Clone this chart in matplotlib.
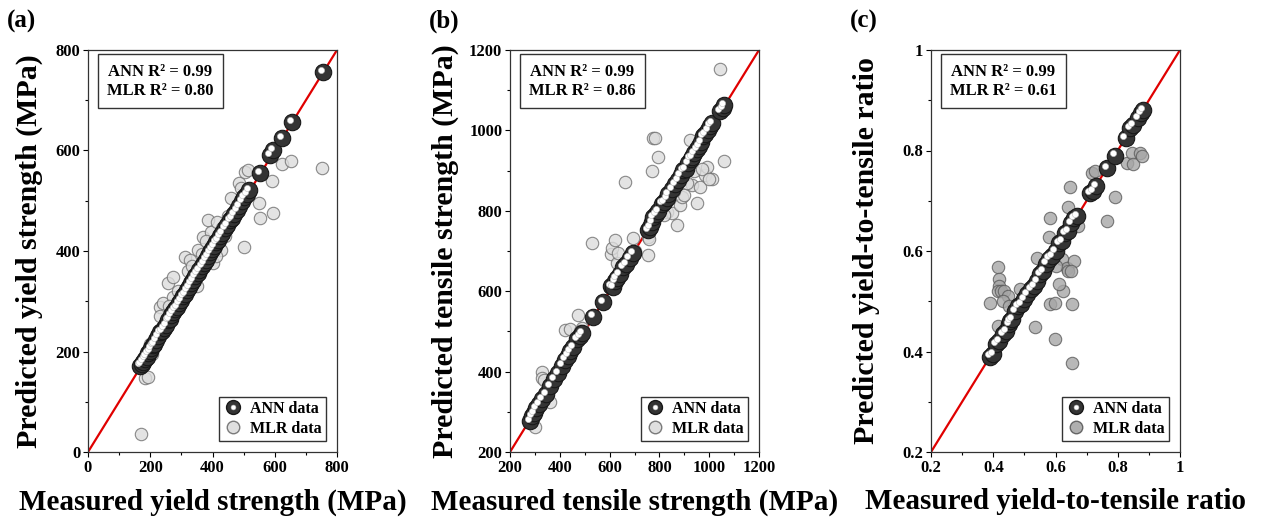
import numpy as np
import matplotlib
matplotlib.use('Agg')
import matplotlib.pyplot as plt
from matplotlib.transforms import offset_copy
from matplotlib.lines import Line2D
from matplotlib.legend_handler import HandlerTuple
from matplotlib.ticker import MultipleLocator, FuncFormatter

plt.rcParams['font.family'] = ['Liberation Serif', 'DejaVu Serif']
plt.rcParams['font.weight'] = 'bold'

# (a) предел текучести
ann_a_x = [168, 172, 178, 183, 188, 193, 198, 203, 208, 213, 220, 226, 232, 238, 244, 250, 256, 262, 268, 274,
           280, 286, 292, 298, 305, 312, 318, 325, 332, 338, 345, 352, 358, 365, 372, 378, 385, 392, 398, 405,
           412, 418, 425, 432, 440, 448, 455, 462, 470, 478, 486, 494, 502, 510, 518, 552, 585, 595, 622, 655, 755]
ann_a_y = [172, 175, 180, 186, 190, 197, 201, 206, 212, 215, 223, 230, 238, 240, 247, 253, 262, 265, 272, 279,
           284, 288, 296, 302, 310, 315, 322, 328, 336, 343, 350, 356, 362, 370, 376, 383, 390, 398, 404, 410,
           418, 422, 430, 436, 445, 452, 461, 466, 474, 482, 490, 499, 507, 514, 522, 555, 591, 601, 625, 657, 756]
mlr_a_x = [170, 184, 194, 205, 215, 232, 242, 258, 274, 287, 274, 300, 313, 329, 345, 352, 368, 387, 394, 403,
           416, 426, 430, 440, 458, 470, 484, 490, 500, 506, 513, 548, 552, 590, 594, 622, 652, 751, 260, 320,
           365, 380, 450, 350, 290, 230, 200, 410, 335]
mlr_a_y = [35, 147, 149, 195, 210, 289, 296, 336, 348, 296, 308, 310, 388, 382, 348, 402, 428, 462, 438, 376,
           458, 402, 445, 430, 505, 480, 535, 525, 408, 557, 561, 495, 466, 539, 476, 573, 579, 565, 290, 360,
           395, 420, 470, 330, 320, 270, 215, 390, 370]

# (b) предел прочности
ann_b_x = [280, 288, 295, 305, 318, 329, 345, 361, 378, 393, 410, 421, 433, 441, 455, 470, 480, 489, 533, 573,
           605, 614, 622, 628, 640, 654, 665, 680, 694, 755, 762, 770, 775, 785, 795, 810, 820, 830, 836, 850,
           862, 875, 885, 895, 905, 915, 925, 931, 940, 951, 960, 968, 976, 985, 995, 1003, 1012, 1045, 1055, 1061]
ann_b_y = [277, 290, 297, 310, 320, 331, 345, 363, 382, 397, 415, 430, 440, 451, 462, 480, 488, 496, 537, 574,
           612, 611, 625, 632, 643, 661, 668, 683, 694, 752, 760, 772, 785, 792, 800, 818, 822, 832, 842, 853,
           866, 876, 888, 901, 905, 918, 930, 933, 943, 954, 962, 970, 987, 990, 1000, 1012, 1018, 1049, 1055, 1062]
mlr_b_x = [301, 329, 329, 335, 361, 421, 473, 489, 440, 529, 606, 610, 622, 630, 634, 662, 694, 700, 755, 755,
           770, 775, 782, 794, 800, 830, 850, 871, 883, 891, 900, 923, 931, 951, 963, 983, 991, 1011, 1043, 1059,
           940, 970, 860, 820, 910, 1000, 760, 480]
mlr_b_y = [262, 398, 385, 380, 324, 504, 541, 509, 505, 719, 692, 707, 727, 670, 694, 871, 732, 700, 690, 735,
           898, 980, 980, 933, 805, 797, 795, 765, 814, 834, 840, 975, 863, 819, 858, 888, 909, 878, 1153, 923,
           900, 905, 850, 790, 870, 880, 730, 500]

# (c) отношение текучести к прочности
ann_c_x = [0.39, 0.40, 0.41, 0.42, 0.43, 0.44, 0.45, 0.455, 0.46, 0.47, 0.48, 0.49, 0.50, 0.51, 0.52, 0.53, 0.54,
           0.55, 0.56, 0.57, 0.58, 0.59, 0.60, 0.61, 0.62, 0.63, 0.64, 0.65, 0.66, 0.67, 0.71, 0.72, 0.73, 0.765,
           0.79, 0.825, 0.84, 0.85, 0.865, 0.875, 0.88]
ann_c_y = [0.39, 0.395, 0.415, 0.42, 0.435, 0.44, 0.455, 0.46, 0.465, 0.48, 0.49, 0.495, 0.505, 0.515, 0.525, 0.53,
           0.54, 0.555, 0.56, 0.575, 0.585, 0.59, 0.60, 0.615, 0.62, 0.635, 0.64, 0.655, 0.665, 0.67, 0.715, 0.72,
           0.73, 0.765, 0.79, 0.825, 0.845, 0.85, 0.865, 0.875, 0.88]
mlr_c_x = [0.39, 0.415, 0.418, 0.42, 0.415, 0.425, 0.435, 0.446, 0.415, 0.43, 0.45, 0.486, 0.534, 0.54, 0.575,
           0.578, 0.582, 0.582, 0.597, 0.598, 0.62, 0.625, 0.636, 0.64, 0.64, 0.647, 0.653, 0.653, 0.66, 0.672,
           0.717, 0.728, 0.765, 0.79, 0.83, 0.846, 0.85, 0.87, 0.877, 0.60, 0.61, 0.65]
mlr_c_y = [0.497, 0.569, 0.545, 0.53, 0.52, 0.52, 0.52, 0.51, 0.45, 0.50, 0.49, 0.524, 0.448, 0.587, 0.58,
           0.627, 0.666, 0.494, 0.497, 0.424, 0.585, 0.52, 0.566, 0.687, 0.56, 0.728, 0.378, 0.494, 0.58, 0.649,
           0.755, 0.76, 0.659, 0.708, 0.775, 0.795, 0.773, 0.795, 0.79, 0.57, 0.535, 0.56]

panels = [
    dict(tag='(a)', ann=(ann_a_x, ann_a_y), mlr=(mlr_a_x, mlr_a_y), lim=(0, 800), major=200, minor=100,
         r2=('0.99', '0.80'), xlabel='Measured yield strength (MPa)', ylabel='Predicted yield strength (MPa)',
         mlr_face='#dcdcdc', mlr_edge='#6e6e6e', left=88, ylx=-0.235),
    dict(tag='(b)', ann=(ann_b_x, ann_b_y), mlr=(mlr_b_x, mlr_b_y), lim=(200, 1200), major=200, minor=100,
         r2=('0.99', '0.86'), xlabel='Measured tensile strength (MPa)', ylabel='Predicted tensile strength (MPa)',
         mlr_face='#dcdcdc', mlr_edge='#6e6e6e', left=510, ylx=-0.26),
    dict(tag='(c)', ann=(ann_c_x, ann_c_y), mlr=(mlr_c_x, mlr_c_y), lim=(0.2, 1.0), major=0.2, minor=0.1,
         r2=('0.99', '0.61'), xlabel='Measured yield-to-tensile ratio', ylabel='Predicted yield-to-tensile ratio',
         mlr_face='#a6a6a6', mlr_edge='#5a5a5a', left=931, ylx=-0.258),
]

W, H = 1261, 524
fig = plt.figure(figsize=(W / 100, H / 100), dpi=100)

for p in panels:
    ax = fig.add_axes([p['left'] / W, (H - 452) / H, 249 / W, 402 / H])
    lo, hi = p['lim']
    ax.plot([lo, hi], [lo, hi], color='#e00000', lw=1.6, zorder=1)

    mx, my = p['mlr']
    ax.scatter(mx, my, s=80, facecolor=p['mlr_face'], edgecolor=p['mlr_edge'], lw=0.8, alpha=0.8, zorder=2)

    axx, axy = p['ann']
    ax.scatter(axx, axy, s=140, facecolor='#343434', edgecolor='#181818', lw=0.8, zorder=3)
    hl = offset_copy(ax.transData, fig=fig, x=-1.5, y=1.5, units='points')
    ax.scatter(axx, axy, s=20, facecolor='white', edgecolor='#bbbbbb', lw=0.4, transform=hl, zorder=4)

    ax.set_xlim(lo, hi)
    ax.set_ylim(lo, hi)
    for a in (ax.xaxis, ax.yaxis):
        a.set_major_locator(MultipleLocator(p['major']))
        a.set_minor_locator(MultipleLocator(p['minor']))
        a.set_major_formatter(FuncFormatter(lambda v, pos: f'{v:g}'))
    ax.tick_params(which='both', direction='out', top=False, right=False, labelsize=12, pad=2, width=0.8)
    ax.tick_params(which='major', length=3.5)
    ax.tick_params(which='minor', length=2)
    for lab in ax.get_xticklabels() + ax.get_yticklabels():
        lab.set_fontweight('bold')
    for s in ax.spines.values():
        s.set_linewidth(0.9)
        s.set_color('#333333')

    ax.text(0.29, 0.922, f'ANN R² = {p["r2"][0]}\nMLR R² = {p["r2"][1]}', transform=ax.transAxes,
            ha='center', va='center', fontsize=12, fontweight='bold', linespacing=1.3,
            bbox=dict(boxstyle='square,pad=0.55', facecolor='white', edgecolor='#333333', lw=1))

    h_ann = (Line2D([], [], ls='', marker='o', ms=10, mfc='#343434', mec='#181818'),
             Line2D([], [], ls='', marker='o', ms=3.5, mfc='white', mec='#bbbbbb', mew=0.4))
    h_mlr = Line2D([], [], ls='', marker='o', ms=9, mfc=p['mlr_face'], mec=p['mlr_edge'], alpha=0.9)
    leg = ax.legend([h_ann, h_mlr], ['ANN data', 'MLR data'], loc='lower right',
                    handler_map={tuple: HandlerTuple(ndivide=1)},
                    prop=dict(size=11.5, weight='bold'), fancybox=False, framealpha=1,
                    edgecolor='#333333', borderaxespad=0.7, handletextpad=0.5, handlelength=1.2,
                    borderpad=0.25, labelspacing=0.25)
    leg.get_frame().set_linewidth(1)

    ax.set_xlabel(p['xlabel'], fontsize=21, fontweight='bold', va='center')
    ax.xaxis.set_label_coords(0.5, -0.124)
    ax.set_ylabel(p['ylabel'], fontsize=21.5, fontweight='bold', va='center')
    ax.yaxis.set_label_coords(p['ylx'], 0.5)

    fig.text((p['left'] - 81) / W, 1 - 21 / H, p['tag'], fontsize=18, fontweight='bold', va='center')

plt.savefig('out.png', dpi=100)
